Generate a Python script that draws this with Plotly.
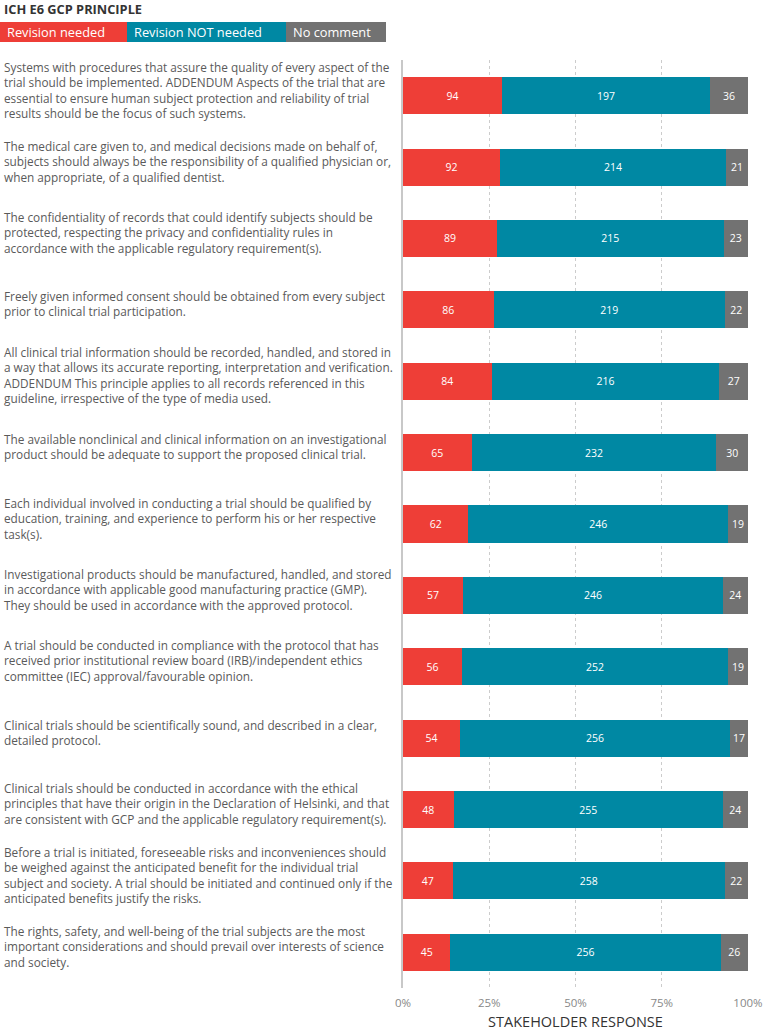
import plotly.graph_objects as go

principles = [
    "Systems with procedures that assure the quality of every aspect of the<br>trial should be implemented. ADDENDUM Aspects of the trial that are<br>essential to ensure human subject protection and reliability of trial<br>results should be the focus of such systems.",
    "The medical care given to, and medical decisions made on behalf of,<br>subjects should always be the responsibility of a qualified physician or,<br>when appropriate, of a qualified dentist.",
    "The confidentiality of records that could identify subjects should be<br>protected, respecting the privacy and confidentiality rules in<br>accordance with the applicable regulatory requirement(s).",
    "Freely given informed consent should be obtained from every subject<br>prior to clinical trial participation.",
    "All clinical trial information should be recorded, handled, and stored in<br>a way that allows its accurate reporting, interpretation and verification.<br>ADDENDUM This principle applies to all records referenced in this<br>guideline, irrespective of the type of media used.",
    "The available nonclinical and clinical information on an investigational<br>product should be adequate to support the proposed clinical trial.",
    "Each individual involved in conducting a trial should be qualified by<br>education, training, and experience to perform his or her respective<br>task(s).",
    "Investigational products should be manufactured, handled, and stored<br>in accordance with applicable good manufacturing practice (GMP).<br>They should be used in accordance with the approved protocol.",
    "A trial should be conducted in compliance with the protocol that has<br>received prior institutional review board (IRB)/independent ethics<br>committee (IEC) approval/favourable opinion.",
    "Clinical trials should be scientifically sound, and described in a clear,<br>detailed protocol.",
    "Clinical trials should be conducted in accordance with the ethical<br>principles that have their origin in the Declaration of Helsinki, and that<br>are consistent with GCP and the applicable regulatory requirement(s).",
    "Before a trial is initiated, foreseeable risks and inconveniences should<br>be weighed against the anticipated benefit for the individual trial<br>subject and society. A trial should be initiated and continued only if the<br>anticipated benefits justify the risks.",
    "The rights, safety, and well-being of the trial subjects are the most<br>important considerations and should prevail over interests of science<br>and society.",
]
revision_needed = [94, 92, 89, 86, 84, 65, 62, 57, 56, 54, 48, 47, 45]
revision_not_needed = [197, 214, 215, 219, 216, 232, 246, 246, 252, 256, 255, 258, 256]
no_comment = [36, 21, 23, 22, 27, 30, 19, 24, 19, 17, 24, 22, 26]

series_names = ["Revision needed", "Revision NOT needed", "No comment"]
series_values = [revision_needed, revision_not_needed, no_comment]
colors = ["#EE3E37", "#0088A3", "#727272"]

tick_values = [0, 25, 50, 75, 100]
tick_labels = ["0%", "25%", "50%", "75%", "100%"]

ids = [f"p{i}" for i in range(len(principles))]

FONT = "Open Sans"

fig = go.Figure()
for name, vals, col in zip(series_names, series_values, colors):
    fig.add_trace(go.Bar(
        y=ids, x=vals, name=name, orientation="h",
        marker=dict(color=col, line=dict(width=0)),
        text=[str(v) for v in vals], textposition="inside",
        insidetextanchor="middle",
        textfont=dict(color="white", size=10.5, family=FONT),
        showlegend=False,
    ))

W, H = 763, 1033
ml, mr, mt, mb = 403, 15, 60, 45
pw, ph = W - ml - mr, H - mt - mb

def px_x(px):
    return (px - ml) / pw

def px_y(py):
    return (H - mb - py) / ph

annotations = []
for cid, txt in zip(ids, principles):
    annotations.append(dict(
        x=px_x(2), xref="paper", y=cid, yref="y", yshift=6,
        xanchor="left", yanchor="middle", align="left",
        text=txt, showarrow=False,
        font=dict(family=FONT, size=11.8, color="#5a5a5a"),
    ))

annotations.append(dict(
    x=px_x(2), xref="paper", y=px_y(9), yref="paper",
    xanchor="left", yanchor="middle", text="<b>ICH E6 GCP PRINCIPLE</b>",
    showarrow=False, font=dict(family=FONT, size=12.8, color="#333333"),
))

legend_edges = [0, 127, 286, 386]
shapes = []
for i, (name, col) in enumerate(zip(series_names, colors)):
    shapes.append(dict(
        type="rect", xref="paper", yref="paper",
        x0=px_x(legend_edges[i]), x1=px_x(legend_edges[i + 1]),
        y0=px_y(42), y1=px_y(22), fillcolor=col, line=dict(width=0),
    ))
    annotations.append(dict(
        x=px_x(legend_edges[i] + 5), xref="paper", y=px_y(32), yref="paper",
        xanchor="left", yanchor="middle", text=name, showarrow=False,
        font=dict(family=FONT, size=12.8, color="white"),
    ))

fig.update_layout(
    width=W, height=H,
    margin=dict(l=ml, r=mr, t=mt, b=mb, autoexpand=False),
    barmode="stack", barnorm="percent", bargap=0.48,
    plot_bgcolor="white", paper_bgcolor="white",
    shapes=shapes, annotations=annotations,
    xaxis=dict(
        range=[0, 100.01], tickmode="array", tickvals=tick_values, ticktext=tick_labels,
        showgrid=True, gridcolor="#cccccc", griddash="dot", gridwidth=1,
        zeroline=False, showline=False,
        ticks="outside", ticklen=4, tickcolor="rgba(0,0,0,0)",
        tickfont=dict(family=FONT, size=11.5, color="#888888"),
        title=dict(text="STAKEHOLDER RESPONSE", standoff=8,
                   font=dict(family=FONT, size=14.5, color="#333333")),
    ),
    yaxis=dict(
        autorange="reversed", showticklabels=False, showgrid=False,
        showline=True, linecolor="#c8c8c8", linewidth=2, zeroline=False,
    ),
)

fig.write_html("out.html", config={"displayModeBar": False},
               post_script="document.body.style.margin='0';document.body.style.padding='0';")
